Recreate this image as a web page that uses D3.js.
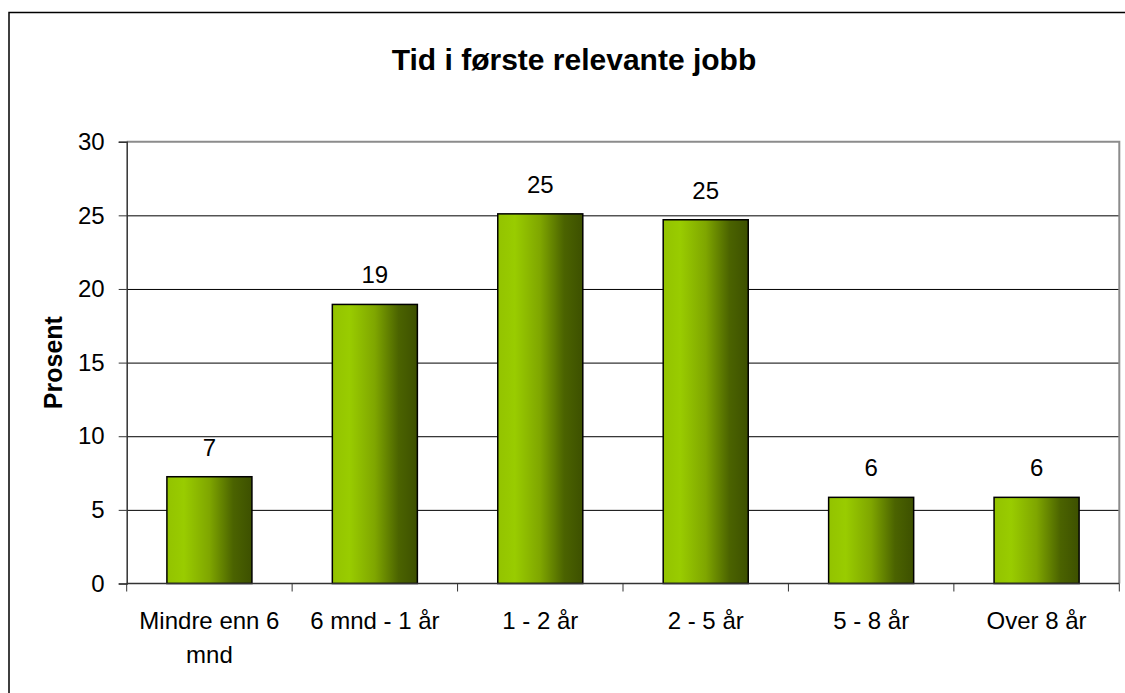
<html lang="en">
<head>
<style>
body { margin: 0; background: #fff; }
svg text { font-family: "Liberation Sans", Arial, sans-serif; fill: #000; }
</style>
</head>
<body>
</body>
<script type='text/javascript' src='https://d3js.org/d3.v7.min.js'></script>
<script>
var width = 1125, height = 693;

// data
const categories = ['Mindre enn 6 mnd', '6 mnd - 1 år', '1 - 2 år', '2 - 5 år', '5 - 8 år', 'Over 8 år'];
const labelLines = [['Mindre enn 6', 'mnd'], ['6 mnd - 1 år'], ['1 - 2 år'], ['2 - 5 år'], ['5 - 8 år'], ['Over 8 år']];
const values = [7.25, 18.95, 25.1, 24.7, 5.85, 5.85];
const valueLabels = ['7', '19', '25', '25', '6', '6'];
const yTicks = [0, 5, 10, 15, 20, 25, 30];

var plot = {left: 126.7, right: 1119.3, top: 141.7, bottom: 583.5};

var svg = d3.select('body').append('svg').attr('width', width).attr('height', height);

// bar gradient
var grad = svg.append('defs').append('linearGradient').attr('id', 'barGrad')
  .attr('x1', '0%').attr('x2', '100%').attr('y1', '0%').attr('y2', '0%');
[[0, '#93c300'], [0.2, '#99cc00'], [0.5, '#7fa600'], [0.78, '#4b6300'], [1, '#3d5000']].forEach(function(s) {
  grad.append('stop').attr('offset', s[0]).attr('stop-color', s[1]);
});

// outer chart border (only left and top are visible)
svg.append('rect').attr('x', 9).attr('y', 12.5).attr('width', width + 10).attr('height', height + 10)
  .attr('fill', 'none').attr('stroke', '#000').attr('stroke-width', 1.5);

var x = d3.scaleBand().domain(categories).range([plot.left, plot.right])
  .paddingInner(0.486).paddingOuter(0.243);
var y = d3.scaleLinear().domain([0, 30]).range([plot.bottom, plot.top]);

// gridlines
svg.append('g').selectAll('line').data(yTicks.filter(function(d) { return d > 0 && d < 30; }))
  .join('line')
  .attr('x1', plot.left).attr('x2', plot.right)
  .attr('y1', function(d) { return y(d) + 0.5; }).attr('y2', function(d) { return y(d) + 0.5; })
  .attr('stroke', '#000').attr('stroke-width', 1);

// plot area border top + right (grey)
svg.append('path')
  .attr('d', 'M' + plot.left + ',' + plot.top + 'H' + plot.right + 'V' + plot.bottom)
  .attr('fill', 'none').attr('stroke', '#8c8c8c').attr('stroke-width', 2);

// bars
svg.append('g').selectAll('rect').data(values).join('rect')
  .attr('x', function(d, i) { return x(categories[i]); })
  .attr('y', function(d) { return y(d); })
  .attr('width', x.bandwidth())
  .attr('height', function(d) { return y(0) - y(d); })
  .attr('fill', 'url(#barGrad)')
  .attr('stroke', '#000').attr('stroke-width', 1.5);

// value labels
svg.append('g').selectAll('text').data(values).join('text')
  .attr('x', function(d, i) { return x(categories[i]) + x.bandwidth() / 2; })
  .attr('y', function(d) { return y(d) - 21; })
  .attr('text-anchor', 'middle')
  .style('font-size', '24px')
  .text(function(d, i) { return valueLabels[i]; });

// y axis
var yAxis = svg.append('g').attr('transform', 'translate(' + plot.left + ',0)')
  .call(d3.axisLeft(y).tickValues(yTicks).tickSize(8).tickPadding(14));
yAxis.select('.domain').attr('stroke', '#333').attr('stroke-width', 1.5);
yAxis.selectAll('.tick line').attr('stroke', '#333');
yAxis.selectAll('.tick text').style('font-size', '24px').style('font-family', '"Liberation Sans", Arial, sans-serif').attr('fill', '#000');

// x axis line with ticks at category boundaries
var step = x.step();
var bounds = d3.range(categories.length + 1).map(function(i) { return plot.left + i * step; });
svg.append('line').attr('x1', plot.left).attr('x2', plot.right)
  .attr('y1', plot.bottom).attr('y2', plot.bottom)
  .attr('stroke', '#333').attr('stroke-width', 1.5);
svg.append('g').selectAll('line').data(bounds).join('line')
  .attr('x1', function(d) { return d; }).attr('x2', function(d) { return d; })
  .attr('y1', plot.bottom).attr('y2', plot.bottom + 8)
  .attr('stroke', '#333').attr('stroke-width', 1);

// x labels (wrapped as in the original)
var xl = svg.append('g').selectAll('text').data(categories).join('text')
  .attr('text-anchor', 'middle')
  .style('font-size', '24px');
xl.each(function(c, i) {
  var t = d3.select(this);
  labelLines[i].forEach(function(line, j) {
    t.append('tspan')
      .attr('x', x(c) + x.bandwidth() / 2)
      .attr('y', 629 + j * 33.5)
      .text(line);
  });
});

// title
svg.append('text').attr('x', 574).attr('y', 70)
  .attr('text-anchor', 'middle')
  .style('font-size', '30px').style('font-weight', 'bold')
  .text('Tid i første relevante jobb');

// y axis title
svg.append('text')
  .attr('transform', 'translate(61.5,' + ((plot.top + plot.bottom) / 2) + ') rotate(-90)')
  .attr('text-anchor', 'middle')
  .style('font-size', '25px').style('font-weight', 'bold')
  .text('Prosent');
</script>
</html>
